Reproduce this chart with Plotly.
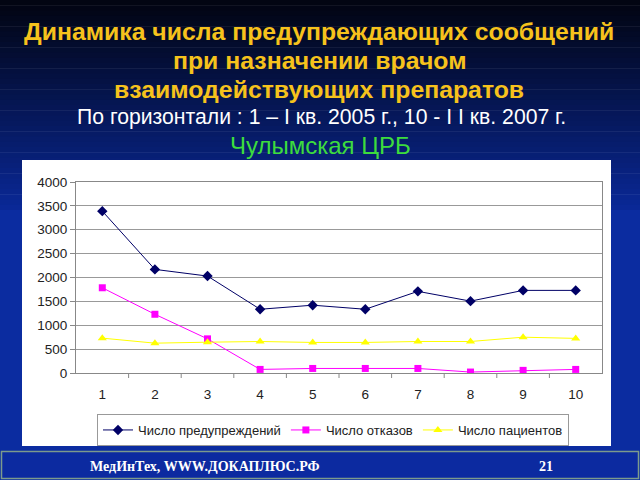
import plotly.graph_objects as go

categories = [1, 2, 3, 4, 5, 6, 7, 8, 9, 10]
warnings = [3390, 2170, 2030, 1335, 1420, 1335, 1710, 1505, 1730, 1730]
refusals = [1785, 1230, 715, 75, 95, 95, 95, 20, 55, 75]
patients = [730, 625, 645, 660, 640, 640, 660, 660, 750, 725]
y_ticks = [0, 500, 1000, 1500, 2000, 2500, 3000, 3500, 4000]

W, H = 640, 480
L, R, T, B = 76, 602, 182, 373  # plot area in pixels


def px(p):
    return (p - L) / (R - L)


def py(q):
    return (B - q) / (B - T)


fig = go.Figure()
fig.add_trace(go.Scatter(x=categories, y=warnings, mode="lines+markers",
                         name="Число предупреждений",
                         line=dict(color="#000066", width=1),
                         marker=dict(symbol="diamond", size=8, color="#000066")))
fig.add_trace(go.Scatter(x=categories, y=refusals, mode="lines+markers",
                         name="Число отказов",
                         line=dict(color="#ff00ff", width=1),
                         marker=dict(symbol="square", size=7, color="#ff00ff")))
fig.add_trace(go.Scatter(x=categories, y=patients, mode="lines+markers",
                         name="Число пациентов",
                         line=dict(color="#ffff00", width=1),
                         marker=dict(symbol="triangle-up", size=8, color="#ffff00")))

shapes = []
# background gradient
n = 40
top_c = (2, 5, 18)
mid_c = (10, 40, 150)
bot_c = (11, 44, 160)
grad_end = 210
for i in range(n):
    q0 = grad_end * i / n
    q1 = grad_end * (i + 1) / n + 0.5
    t = i / (n - 1)
    c = tuple(int(top_c[k] + (mid_c[k] - top_c[k]) * t) for k in range(3))
    shapes.append(dict(type="rect", xref="paper", yref="paper", layer="below",
                       x0=px(-5), x1=px(W + 5), y0=py(q1), y1=py(q0),
                       fillcolor="rgb(%d,%d,%d)" % c, line=dict(width=0)))
shapes.append(dict(type="rect", xref="paper", yref="paper", layer="below",
                   x0=px(-5), x1=px(W + 5), y0=py(H + 5), y1=py(grad_end),
                   fillcolor="rgb(%d,%d,%d)" % bot_c, line=dict(width=0)))
# white chart panel
shapes.append(dict(type="rect", xref="paper", yref="paper", layer="below",
                   x0=px(22), x1=px(611), y0=py(446), y1=py(160),
                   fillcolor="white", line=dict(width=0)))
# footer bar
shapes.append(dict(type="rect", xref="paper", yref="paper", layer="below",
                   x0=px(1.5), x1=px(638.5), y0=py(478.5), y1=py(451.5),
                   fillcolor="#0c2aa0", line=dict(color="#7d9a8c", width=1.5)))

annotations = []
title_lines = [("Динамика числа предупреждающих сообщений", 31),
               ("при назначении врачом", 60),
               ("взаимодействующих препаратов", 89)]
for txt, q in title_lines:
    annotations.append(dict(text="<b>%s</b>" % txt, x=px(319), y=py(q), xref="paper", yref="paper",
                            showarrow=False, xanchor="center", yanchor="middle",
                            font=dict(family="Liberation Sans, Arial", size=24.8, color="#f6c21c")))
annotations.append(dict(text="По горизонтали : 1 – I кв. 2005 г., 10 - I I кв. 2007 г.",
                        x=px(321), y=py(117), xref="paper", yref="paper",
                        showarrow=False, xanchor="center", yanchor="middle",
                        font=dict(family="Liberation Sans, Arial", size=21.2, color="white")))
annotations.append(dict(text="Чулымская ЦРБ", x=px(320), y=py(145), xref="paper", yref="paper",
                        showarrow=False, xanchor="center", yanchor="middle",
                        font=dict(family="Liberation Sans, Arial", size=24, color="#3ddc3d")))
annotations.append(dict(text="<b>МедИнТех, WWW.ДОКАПЛЮС.РФ</b>", x=px(88), y=py(466),
                        xref="paper", yref="paper", showarrow=False,
                        xanchor="left", yanchor="middle",
                        font=dict(family="Liberation Serif, Times New Roman", size=14, color="white")))
annotations.append(dict(text="<b>21</b>", x=px(546), y=py(466),
                        xref="paper", yref="paper", showarrow=False,
                        xanchor="center", yanchor="middle",
                        font=dict(family="Liberation Serif, Times New Roman", size=14, color="white")))

fig.update_layout(
    width=W, height=H,
    margin=dict(l=L, r=W - R, t=T, b=H - B, pad=0, autoexpand=False),
    paper_bgcolor="rgba(0,0,0,0)",
    plot_bgcolor="rgba(0,0,0,0)",
    font=dict(family="Liberation Sans, Arial", size=12, color="#222222"),
    shapes=shapes,
    annotations=annotations,
    showlegend=True,
    legend=dict(orientation="h", x=px(333), xanchor="center",
                yref="container", y=1 - 430 / H, yanchor="middle",
                bgcolor="white", bordercolor="#999999", borderwidth=1,
                font=dict(size=13, color="#222222"), itemwidth=30,
                tracegroupgap=0),
)
fig.update_xaxes(range=[0.5, 10.5], tickmode="array", tickvals=categories,
                 ticktext=[str(c) for c in categories],
                 showgrid=False, showline=True, linecolor="#888888", linewidth=1,
                 mirror=True, ticks="", tickfont=dict(size=13.5), ticklabelstandoff=9,
                 zeroline=False, fixedrange=True, automargin=False)
fig.update_yaxes(range=[0, 4000], tickmode="array", tickvals=y_ticks,
                 showgrid=True, gridcolor="#999999", gridwidth=1,
                 showline=True, linecolor="#888888", linewidth=1, mirror=True,
                 ticks="outside", ticklen=5, tickcolor="#888888",
                 tickfont=dict(size=13.5), zeroline=False, fixedrange=True, automargin=False)

# category boundary tick marks on the x axis (between categories)
for b in [c + 0.5 for c in categories[:-1]]:
    fig.add_shape(type="line", xref="x", yref="paper", x0=b, x1=b, y0=0, y1=py(B + 5),
                  line=dict(color="#888888", width=1))

fig.write_html("out.html", config={"displayModeBar": False},
               post_script="document.body.style.margin='0';document.body.style.overflow='hidden';")
